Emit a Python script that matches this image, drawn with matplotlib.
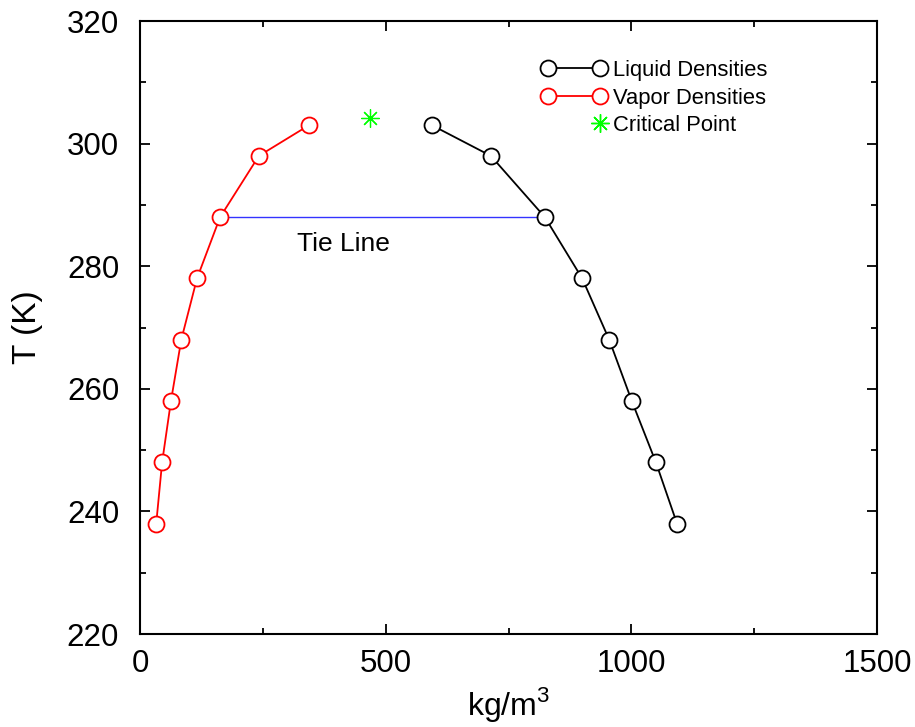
import matplotlib
matplotlib.use("Agg")
import matplotlib.pyplot as plt
import numpy as np
from matplotlib.legend_handler import HandlerLine2D
from matplotlib.ticker import MultipleLocator

plt.rcParams['font.family'] = ['Liberation Sans', 'DejaVu Sans']
plt.rcParams['mathtext.fontset'] = 'custom'
plt.rcParams['mathtext.rm'] = 'Liberation Sans'

temps = [238, 248, 258, 268, 278, 288, 298, 303]
vapor_density = [33, 45, 63, 84, 116, 163, 242, 344]
liquid_density = [1093, 1050, 1001, 955, 900, 824, 714, 594]
critical_density = [468]
critical_temp = [304.2]
tie_temp = 288
tie_label = "Tie Line"


class RightMarkerHandler(HandlerLine2D):
    def get_xdata(self, legend, xdescent, ydescent, width, height, fontsize):
        pad = self._marker_pad * fontsize
        x = -xdescent + width - pad
        return [x, x], [x]


fig = plt.figure(figsize=(9.15, 7.27), dpi=100)
ax = fig.add_axes([140 / 915, 1 - 634 / 727, 737 / 915, 613 / 727])

ax.plot(liquid_density, temps, color='black', lw=1.3, marker='o', ms=11.5,
        mfc='white', mec='black', mew=1.3, label='Liquid Densities')
ax.plot(vapor_density, temps, color='red', lw=1.3, marker='o', ms=11.5,
        mfc='white', mec='red', mew=1.3, label='Vapor Densities')
crit, = ax.plot(critical_density, critical_temp, ls='none', marker=(8, 2, 0), ms=13,
                color='#00ff00', mew=0.9, label='Critical Point')

i = temps.index(tie_temp)
ax.plot([vapor_density[i], liquid_density[i]], [tie_temp, tie_temp],
        color='#3333ff', lw=1.0, zorder=1)
ax.text((vapor_density[i] + liquid_density[i]) / 2 - 80, tie_temp - 4.4, tie_label,
        fontsize=19, ha='center', va='center')

ax.set_xlim(0, 1500)
ax.set_ylim(220, 320)
ax.xaxis.set_major_locator(MultipleLocator(500))
ax.xaxis.set_minor_locator(MultipleLocator(250))
ax.yaxis.set_major_locator(MultipleLocator(20))
ax.yaxis.set_minor_locator(MultipleLocator(10))
ax.tick_params(which='both', direction='in', top=True, right=True, width=1.3)
ax.tick_params(which='major', length=7, labelsize=22.5)
ax.tick_params(which='minor', length=4.5)
ax.tick_params(axis='x', which='major', pad=11)
ax.tick_params(axis='y', which='major', pad=15)
for s in ax.spines.values():
    s.set_linewidth(1.5)

ax.set_xlabel('kg/m$^3$', fontsize=23, labelpad=4)
ax.set_ylabel('T (K)', fontsize=24, labelpad=17)

leg = ax.legend(loc='upper left', bbox_to_anchor=((541 - 140) / 737, (634 - 60) / 613),
                frameon=False, fontsize=15.8, numpoints=2, handlelength=3.0,
                handletextpad=0.3, labelspacing=0.3, borderpad=0, borderaxespad=0,
                handler_map={crit: RightMarkerHandler()})

fig.savefig('out.png', dpi=100)
